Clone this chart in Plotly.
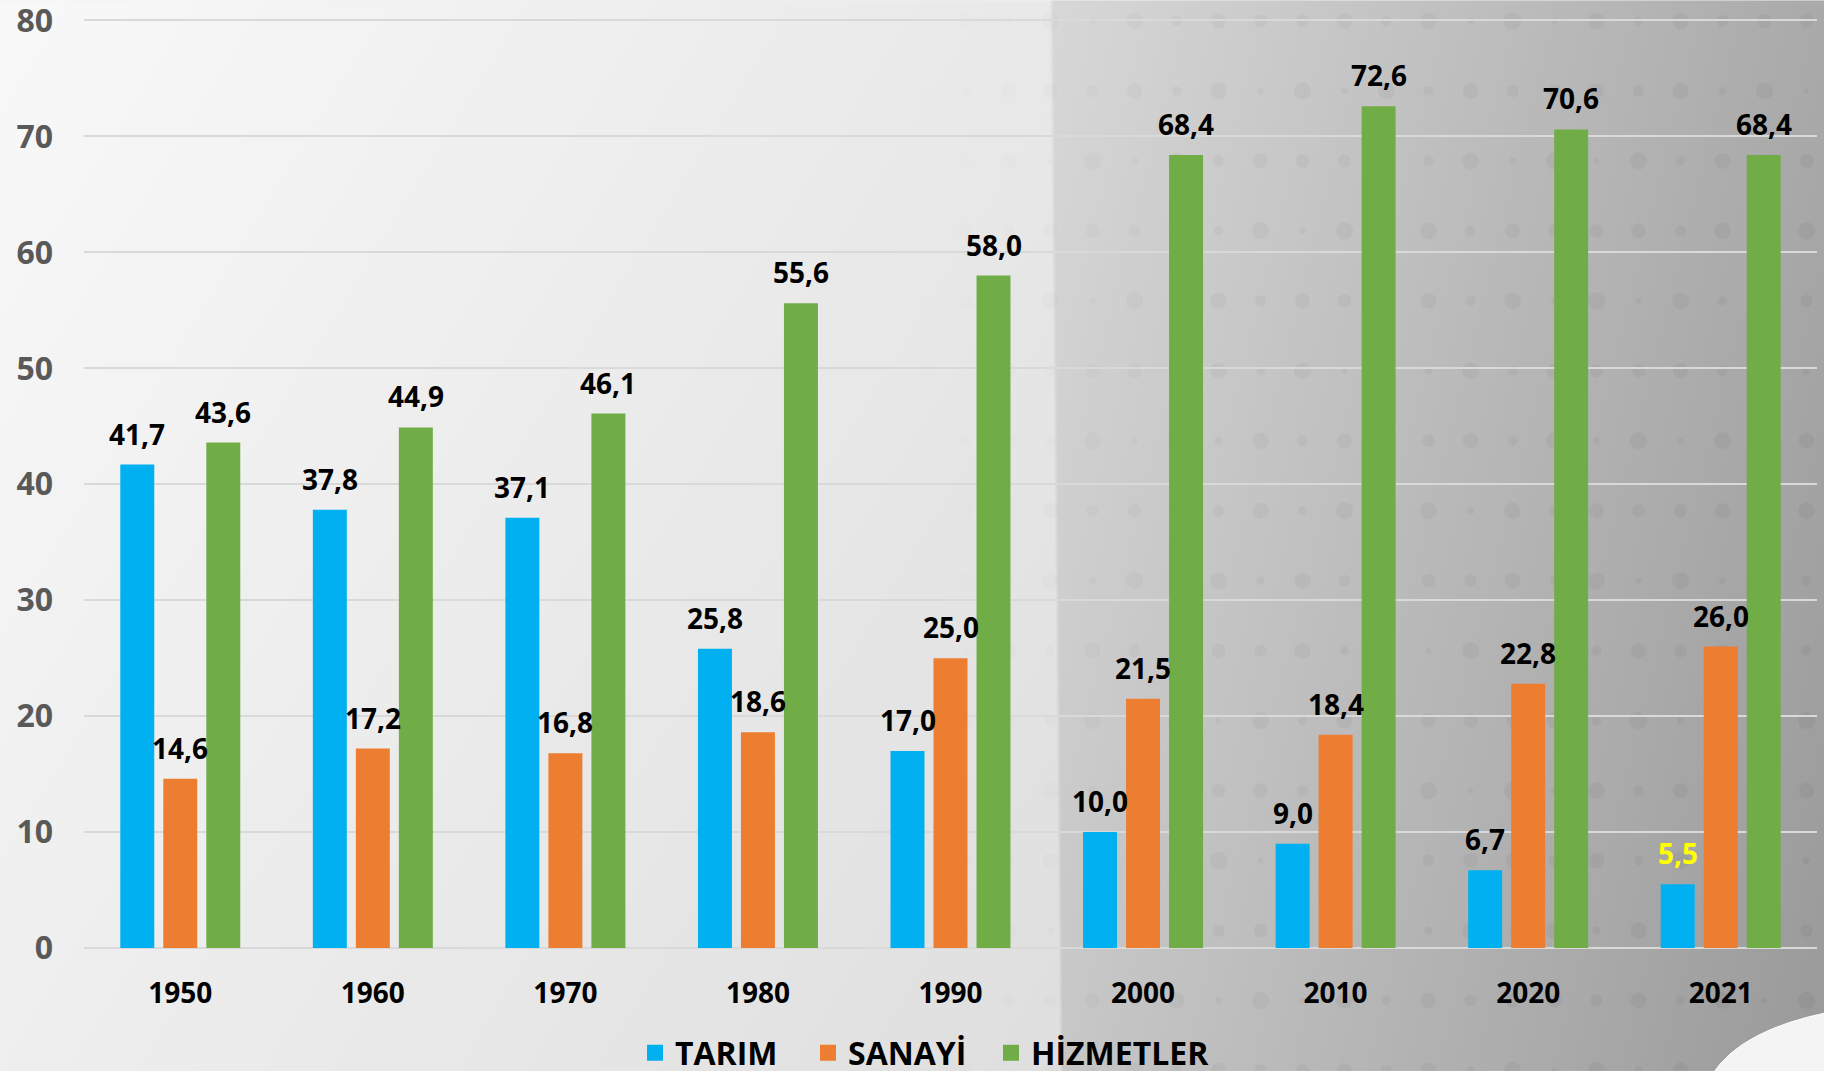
import base64, struct, zlib
import numpy as np
import plotly.graph_objects as go

# ---------------- data ----------------
years = ["1950", "1960", "1970", "1980", "1990", "2000", "2010", "2020", "2021"]
tarim = [41.7, 37.8, 37.1, 25.8, 17.0, 10.0, 9.0, 6.7, 5.5]
sanayi = [14.6, 17.2, 16.8, 18.6, 25.0, 21.5, 18.4, 22.8, 26.0]
hizmetler = [43.6, 44.9, 46.1, 55.6, 58.0, 68.4, 72.6, 70.6, 68.4]
series_names = ["TARIM", "SANAYİ", "HİZMETLER"]
y_ticks = [0, 10, 20, 30, 40, 50, 60, 70, 80]

# ---------------- geometry / style ----------------
W, H = 1824, 1071
YMAX = 80.3
PX_PER_UNIT = (948 - 20) / 80.0
L, R, B = 84, 1817, 948
T = B - YMAX * PX_PER_UNIT
COLORS = ["#00B0F0", "#ED7D31", "#70AD47"]
FONT = "Open Sans"
LEGEND_X = [635, 808, 991]   # pixel left edge of each legend entry
LEGEND_Y = 1053


def px(x):
    return (x - L) / (R - L)


def py(y):
    return (B - y) / (B - T)


# ---------------- background image (decoration) ----------------
def make_png(arr):
    h, w, _ = arr.shape
    raw = b"".join(b"\x00" + arr[i].tobytes() for i in range(h))

    def chunk(tag, data):
        c = struct.pack(">I", len(data)) + tag + data
        return c + struct.pack(">I", zlib.crc32(tag + data) & 0xFFFFFFFF)

    png = b"\x89PNG\r\n\x1a\n"
    png += chunk(b"IHDR", struct.pack(">IIBBBBB", w, h, 8, 2, 0, 0, 0))
    png += chunk(b"IDAT", zlib.compress(raw, 9))
    png += chunk(b"IEND", b"")
    return "data:image/png;base64," + base64.b64encode(png).decode()


GY, GX = np.mgrid[0:H, 0:W].astype(float)
edge = 1051 + (GY / H) * 10
left_v = 249 - 16 * (GX / 1051) - 10 * (GY / H)
tt = np.clip((GX - 1051) / (W - 1051), 0, 1)
right_v = 216 - 46 * tt - 16 * (GY / H)
blend = np.clip((GX - edge) / 4 + 0.5, 0, 1)
v = left_v * (1 - blend) + right_v * blend
gx = np.round(GX / 42)
gy = np.round((GY - 20) / 70)
cx = gx * 42
cy = gy * 70 + 20
rad = 3 + 6 * np.abs(np.sin(gx * 1.7 + gy * 2.3))
d = np.sqrt((GX - cx) ** 2 + (GY - cy) ** 2)
dot = np.clip(rad - d, 0, 1)
strength = np.clip((GX - 900) / 300, 0, 1)
v = v - 7 * dot * strength
v = np.clip(v, 0, 255).astype(np.uint8)
img = np.stack([v, v, v], axis=-1)
bg_uri = make_png(img)

# ---------------- figure ----------------
fig = go.Figure()
all_series = [tarim, sanayi, hizmetler]
for name, vals, col in zip(series_names, all_series, COLORS):
    fig.add_trace(go.Bar(
        x=years, y=vals, name=name, showlegend=False,
        marker=dict(color=col, line=dict(width=0)),
        hoverinfo="x+y+name",
    ))
# legend entries (one legend per series so spacing can match the reference)
legend_ids = ["legend", "legend2", "legend3"]
for name, col, lid in zip(series_names, COLORS, legend_ids):
    fig.add_trace(go.Scatter(
        x=[None], y=[None], name=name, mode="markers", legend=lid,
        marker=dict(symbol="square", size=16, color=col),
    ))

# value labels
shifts = [-43, 0, 43]
for k, vals in enumerate(all_series):
    for i, val in enumerate(vals):
        color = "black"
        if k == 0 and years[i] == "2021":
            color = "#FFFF00"
        fig.add_annotation(
            x=i, y=val, xref="x", yref="y",
            text=f"{val:.1f}".replace(".", ","),
            showarrow=False, xanchor="center", yanchor="bottom",
            xshift=shifts[k], yshift=10,
            font=dict(family=FONT, size=28, color=color, weight="bold"),
        )

fig.add_layout_image(dict(
    source=bg_uri, xref="paper", yref="paper",
    x=px(0), y=py(0), sizex=W / (R - L), sizey=H / (B - T),
    xanchor="left", yanchor="top", sizing="stretch", layer="below",
))


def P(x, y):
    return f"{px(x):.5f},{py(y):.5f}"


curl = (f"M {P(1712, 1075)} Q {P(1740, 1030)} {P(1830, 1012)} "
        f"L {P(1830, 1075)} Z")
fig.add_shape(type="path", path=curl, xref="paper", yref="paper",
              fillcolor="#f4f4f4", line=dict(color="#ffffff", width=1), layer="above")

legend_style = dict(
    orientation="h", xanchor="left", yanchor="middle", y=py(LEGEND_Y),
    font=dict(family=FONT, size=32, color="black", weight="bold"),
    bgcolor="rgba(0,0,0,0)", itemclick=False, itemdoubleclick=False,
)
fig.update_layout(
    width=W, height=H,
    margin=dict(l=L, r=W - R, t=T, b=H - B, autoexpand=False),
    paper_bgcolor="#f2f2f2", plot_bgcolor="rgba(0,0,0,0)",
    barmode="group", bargap=0.33, bargroupgap=0.21,
    showlegend=True,
    legend=dict(x=px(LEGEND_X[0]), **legend_style),
    legend2=dict(x=px(LEGEND_X[1]), **legend_style),
    legend3=dict(x=px(LEGEND_X[2]), **legend_style),
    font=dict(family=FONT),
)
fig.update_xaxes(
    type="category", categoryarray=years, categoryorder="array",
    range=[-0.5, len(years) - 0.5],
    showgrid=False, showline=False, ticks="",
    tickfont=dict(family=FONT, size=28, color="black", weight="bold"),
    ticklabelstandoff=26,
)
fig.update_yaxes(
    range=[0, YMAX], tickvals=y_ticks, showgrid=True, gridcolor="#d9d9d9", gridwidth=2,
    zeroline=True, zerolinecolor="#d9d9d9", zerolinewidth=2, showline=False, ticks="",
    tickfont=dict(family=FONT, size=32, color="#595959", weight="bold"),
    ticklabelstandoff=30, ticklabeloverflow="allow",
)

fig.write_html(
    "out.html",
    config={"displayModeBar": False},
    post_script="document.body.style.margin='0';document.body.style.overflow='hidden';",
)
